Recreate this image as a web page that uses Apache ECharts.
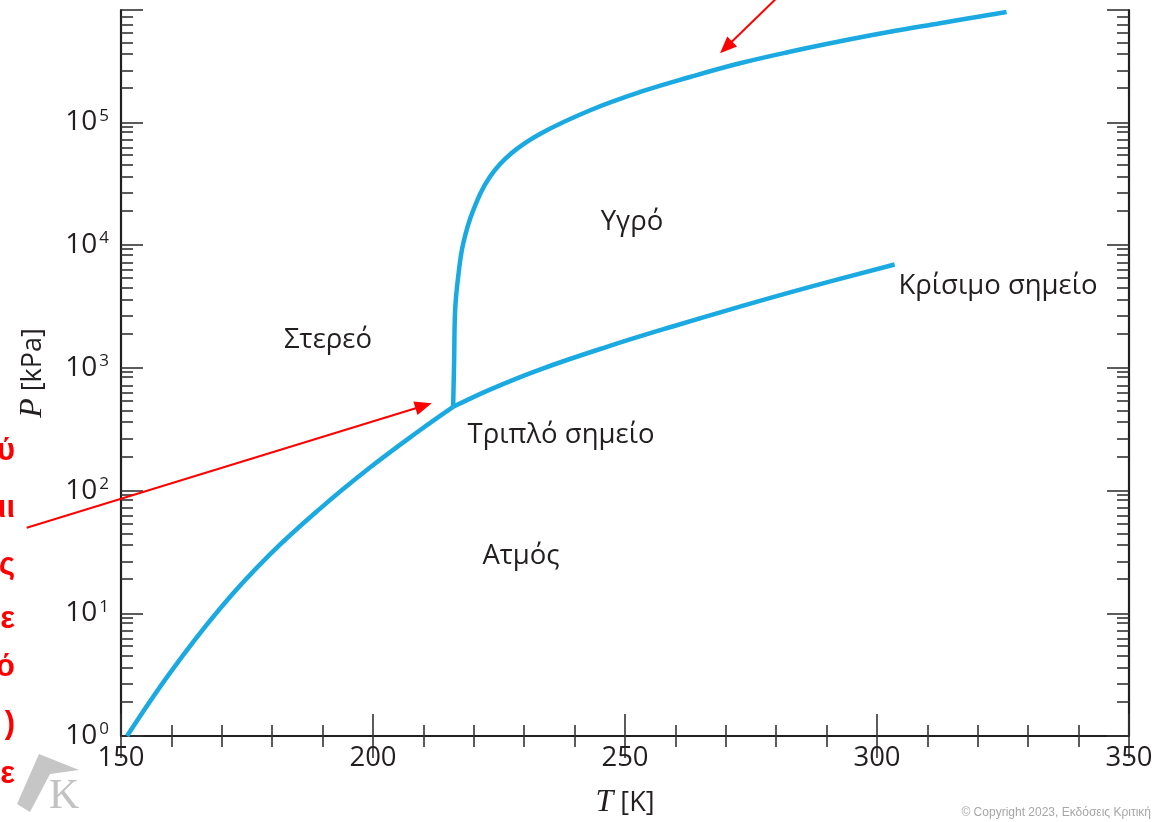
<!DOCTYPE html>
<html><head><meta charset="utf-8">
<script src="https://cdn.jsdelivr.net/npm/echarts@6/dist/echarts.min.js"></script>
<style>html,body{margin:0;padding:0;background:#fff}#c{width:1154px;height:822px}</style>
</head><body><div id="c"></div>
<script>
// ---- data (T in K, P in kPa) ----
const sublimationT = [151.2, 159.8, 169.7, 179.6, 189.5, 199.4, 209.3, 215.9];
const sublimationP = [1.0, 3.30, 11.0, 30.3, 71.3, 154, 310, 481];
const meltingT = [215.9, 216.1, 216.3, 216.9, 217.9, 219.9, 223.2, 227.4, 233.3, 243.1, 253.0, 262.9, 272.8, 282.7, 292.7, 302.6, 312.5, 325.7];
const meltingP = [481, 1157, 2958, 5520, 10300, 19300, 36000, 55800, 81300, 125700, 177000, 234500, 303400, 376500, 458500, 548000, 642500, 794000];
const vaporT = [215.9, 223.2, 233.1, 246.4, 259.6, 272.8, 286.0, 303.5];
const vaporP = [481, 665, 968, 1483, 2183, 3155, 4485, 6950];
const xTicks = [150, 200, 250, 300, 350];
const yDecadeExponents = [0, 1, 2, 3, 4, 5];
const yMinorMultipliers = [1.9, 2.65, 3.62, 4.48, 5.41, 6.25, 7.21, 8.39, 9.27];
const regionLabels = ['Στερεό', 'Υγρό', 'Ατμός', 'Τριπλό σημείο', 'Κρίσιμο σημείο'];
const sideLetters = ['ύ', 'ιι', 'ς', 'ε', 'ό', ')', 'ε'];
const copyrightText = '© Copyright 2023, Εκδόσεις Κριτική';

const X_MIN = 150, X_MAX = 350, Y_MIN = 1, Y_MAX = 824000;
const FONT = '"Open Sans", "Noto Sans", sans-serif';
const INK = '#231f20';
const BLUE = '#1aa9e1';

const zip = (a, b) => a.map((v, i) => [v, b[i]]);
const logMax = Math.log10(Y_MAX);
const minorLogValues = [];
yDecadeExponents.forEach(n => yMinorMultipliers.forEach(m => {
  const v = n + Math.log10(m);
  if (v < logMax) minorLogValues.push(v);
}));

function arrow(x1, y1, x2, y2, len, half) {
  const dx = x2 - x1, dy = y2 - y1, L = Math.hypot(dx, dy);
  const ux = dx / L, uy = dy / L, px = -uy, py = ux;
  const bx = x2 - ux * len, by = y2 - uy * len;
  return [
    { type: 'line', shape: { x1, y1, x2: bx + ux * 2, y2: by + uy * 2 }, style: { stroke: '#ff0000', lineWidth: 2 }, z: 100 },
    { type: 'polygon', shape: { points: [[x2, y2], [bx + px * half, by + py * half], [bx - px * half, by - py * half]] }, style: { fill: '#ff0000' }, z: 100 }
  ];
}

const tickStyle = { color: '#333', width: 1.6 };
const axisLine = { show: true, lineStyle: { color: INK, width: 2.2 } };

const xBase = {
  type: 'value', min: X_MIN, max: X_MAX, interval: 50,
  axisLine, splitLine: { show: false },
  axisTick: { show: true, inside: true, length: 22, lineStyle: tickStyle },
  minorTick: { show: true, splitNumber: 5, length: 11, lineStyle: tickStyle },
  minorSplitLine: { show: false }
};

const chart = echarts.init(document.getElementById('c'));
const textEl = (text, x, y, extra) => Object.assign({
  type: 'text', x, y,
  style: { text, fill: INK, font: '27.5px ' + FONT, align: 'center', verticalAlign: 'middle' }, z: 50
}, extra || {});

const labelPos = [[328, 340], [632, 222], [521, 556], [561, 435], [998, 286]];
const sideY = [451, 508, 565, 619, 667, 724, 774];
const lineBase = { type: 'line', smooth: 0.4, showSymbol: false, symbol: 'none', lineStyle: { color: BLUE, width: 4.5 }, z: 10 };

chart.setOption({
  animation: false,
  backgroundColor: '#fff',
  grid: { left: 121, right: 25, top: 10, bottom: 86, containLabel: false, outerBoundsMode: 'none' },
  xAxis: [
    Object.assign({}, xBase, {
      position: 'bottom',
      axisLabel: { show: true, margin: 8, fontSize: 27.5, fontFamily: FONT, color: INK,
        customValues: xTicks },
      name: '{i|T}{n| [K]}', nameLocation: 'middle', nameGap: 51,
      nameTextStyle: { color: INK, rich: {
        i: { fontFamily: '"Liberation Serif", serif', fontStyle: 'italic', fontSize: 32, color: INK },
        n: { fontFamily: FONT, fontSize: 27, color: INK } } }
    }),
    Object.assign({}, xBase, { position: 'top', axisLabel: { show: false } })
  ],
  yAxis: [
    {
      type: 'log', logBase: 10, min: Y_MIN, max: Y_MAX, position: 'left',
      axisLine, splitLine: { show: false },
      axisTick: { show: true, inside: true, length: 22, lineStyle: tickStyle },
      axisLabel: {
        show: true, margin: 12,
        formatter: v => {
          const e = Math.log10(v), n = Math.round(e);
          if (Math.abs(e - n) > 1e-6) return '';
          return '{b|10}{s|' + n + '}';
        },
        rich: {
          b: { fontSize: 28, fontFamily: FONT, color: INK, lineHeight: 30 },
          s: { fontSize: 17, fontFamily: FONT, color: INK, verticalAlign: 'top', lineHeight: 17, padding: [0, 0, 0, 2] }
        }
      },
      name: '{i|P}{n| [kPa]}', nameLocation: 'middle', nameGap: 72, nameRotate: 90,
      nameTextStyle: { color: INK, rich: {
        i: { fontFamily: '"Liberation Serif", serif', fontStyle: 'italic', fontSize: 32, color: INK },
        n: { fontFamily: FONT, fontSize: 27, color: INK } } }
    },
    {
      type: 'value', min: 0, max: logMax, position: 'left',
      axisLine: { show: false }, splitLine: { show: false }, axisLabel: { show: false },
      axisTick: { show: true, inside: true, length: 12, lineStyle: tickStyle, customValues: minorLogValues }
    },
    {
      type: 'log', logBase: 10, min: Y_MIN, max: Y_MAX, position: 'right',
      axisLine, splitLine: { show: false }, axisLabel: { show: false },
      axisTick: { show: true, inside: true, length: 22, lineStyle: tickStyle }
    },
    {
      type: 'value', min: 0, max: logMax, position: 'right',
      axisLine: { show: false }, splitLine: { show: false }, axisLabel: { show: false },
      axisTick: { show: true, inside: true, length: 12, lineStyle: tickStyle, customValues: minorLogValues }
    }
  ],
  series: [
    Object.assign({ name: 'sublimation', data: zip(sublimationT, sublimationP) }, lineBase),
    Object.assign({ name: 'melting', data: zip(meltingT, meltingP) }, lineBase),
    Object.assign({ name: 'vaporization', data: zip(vaporT, vaporP) }, lineBase)
  ],
  graphic: [
    ...regionLabels.map((t, i) => textEl(t, labelPos[i][0], labelPos[i][1])),
    ...arrow(26.7, 527.7, 431.7, 403.3, 17, 7),
    ...arrow(785, -10, 720, 53.3, 17, 7),
    ...sideLetters.map((t, i) => ({
      type: 'text', x: 15, y: sideY[i], z: 60,
      style: { text: t, fill: '#ff0000', font: 'bold 31px "Liberation Sans", Arial, sans-serif', align: 'right', verticalAlign: 'middle' }
    })),
    { type: 'polygon', shape: { points: [[39, 754], [79, 770], [50, 774], [30, 812], [17, 804]] }, style: { fill: '#c6c6c6' }, z: 40 },
    { type: 'text', x: 49, y: 818, z: 41, style: { text: 'K', fill: '#c2c2c2', font: '42px "Liberation Serif", serif', align: 'left', verticalAlign: 'bottom' } },
    { type: 'text', x: 1151, y: 813, z: 41, style: { text: copyrightText, fill: '#a6a6a6', font: '12px "Liberation Sans", Arial, sans-serif', align: 'right', verticalAlign: 'middle' } }
  ]
});
</script></body></html>
